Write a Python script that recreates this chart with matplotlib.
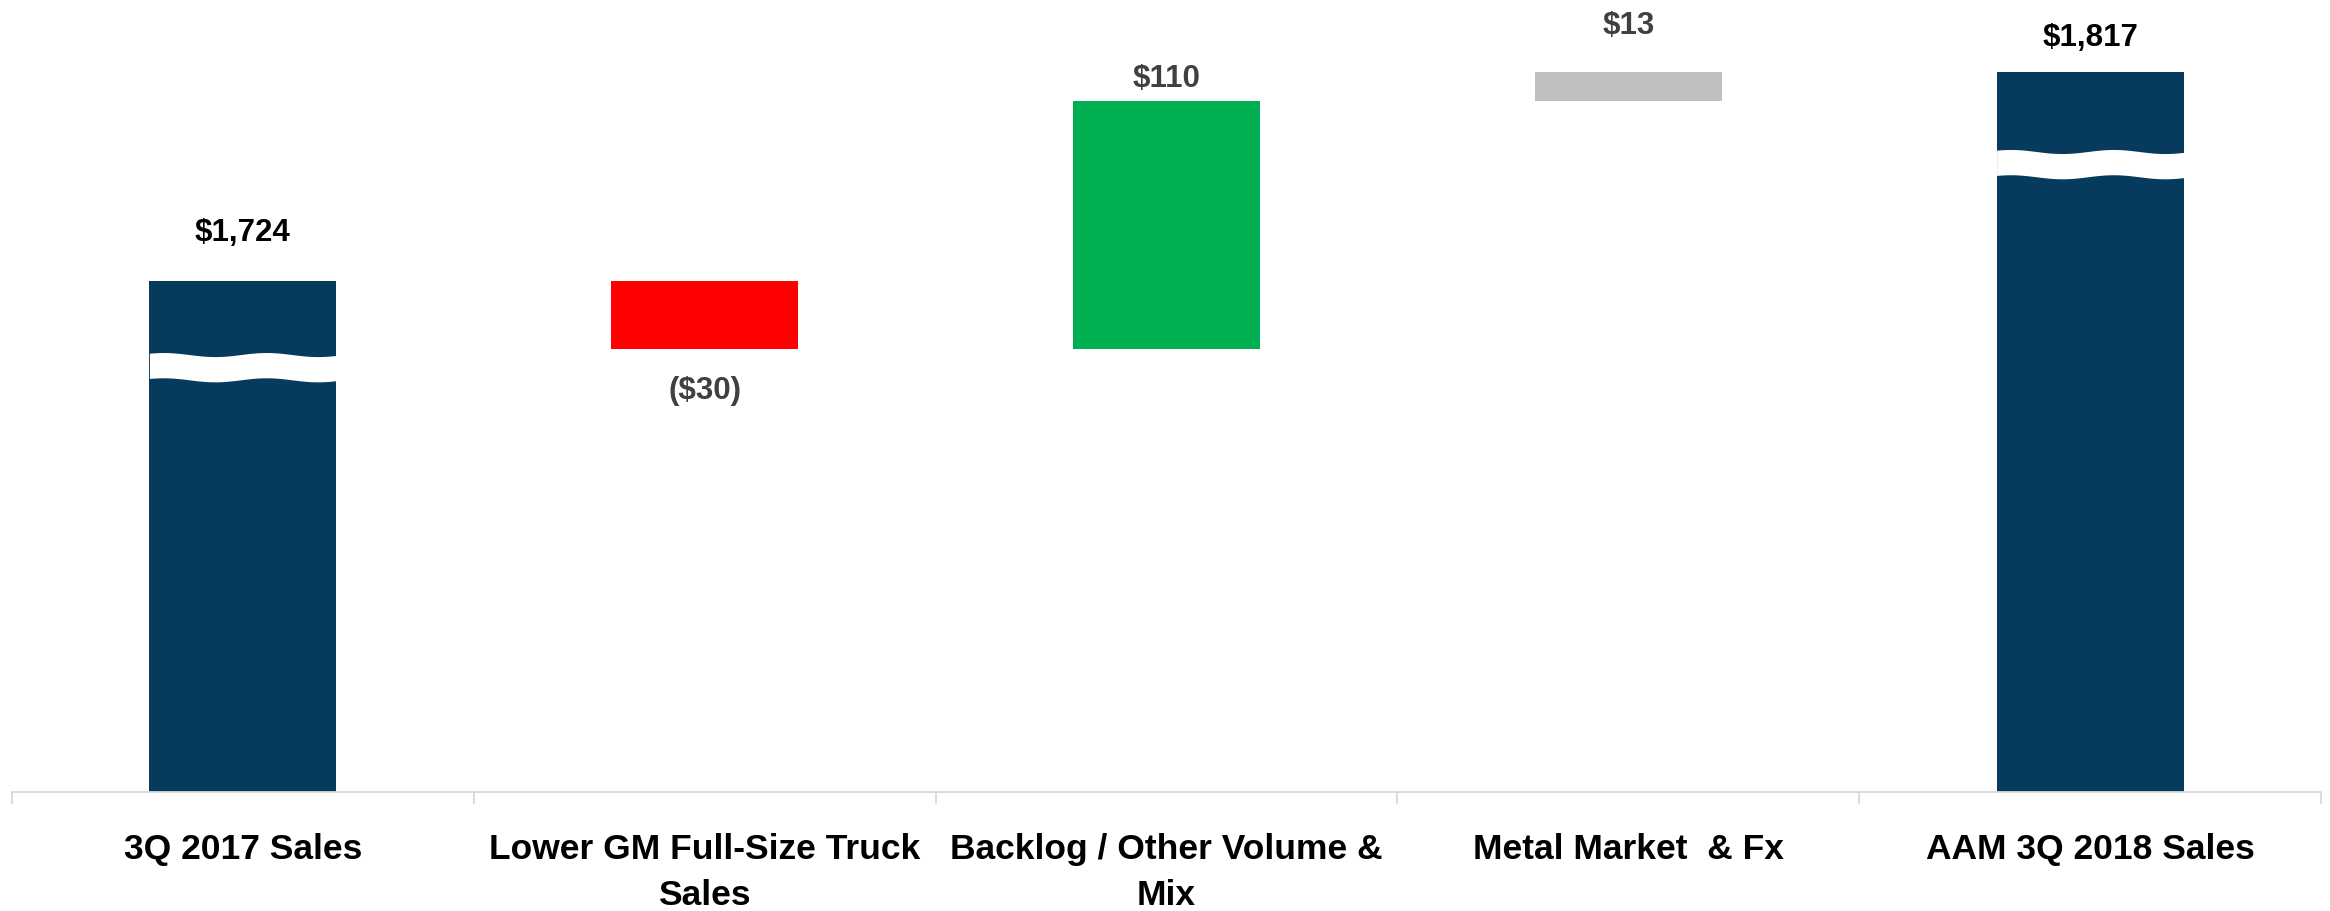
import matplotlib.pyplot as plt
import numpy as np
from matplotlib import font_manager

# Data
categories = [
    "3Q 2017 Sales",
    "Lower GM Full-Size Truck\nSales",
    "Backlog / Other Volume &\nMix",
    "Metal Market  & Fx",
    "AAM 3Q 2018 Sales",
]
values = [1724, -30, 110, 13, 1817]
is_total = [True, False, False, False, True]
value_labels = ["$1,724", "($30)", "$110", "$13", "$1,817"]
break_centers = [1686, None, None, None, 1776]  # where the axis-break wave cuts the total bars

# Style
bar_colors = ["#073b5e", "#ff0000", "#00b050", "#bfbfbf", "#073b5e"]
label_colors = ["#000000", "#404040", "#404040", "#404040", "#000000"]
label_offsets_px = [49, -41, 23, 47, 35]
y_floor = 1497.7
y_top = 1849.2

# the original uses Arial Narrow; fall back to Arial metrics at a smaller size
names = {f.name for f in font_manager.fontManager.ttflist}
narrow = "Liberation Sans Narrow" in names
family = [f for f in ["Liberation Sans Narrow", "Liberation Sans", "DejaVu Sans"] if f in names]
plt.rcParams["font.family"] = family
val_size = 27 if narrow else 22.5
cat_size = 30 if narrow else 25.5
cat_spacing = 1.1 if narrow else 1.5
cat_pad = 26 if narrow else 29

fig = plt.figure(figsize=(23.3, 9.12), dpi=100)
ax = fig.add_axes([12 / 2330, (912 - 793) / 912, 2309 / 2330, 793 / 912])

width = 0.405
running = 0
for i, v in enumerate(values):
    if is_total[i]:
        bottom, top = y_floor, v
        running = v
    else:
        bottom, top = sorted([running, running + v])
        running += v
    ax.bar(i, top - bottom, bottom=bottom, width=width, color=bar_colors[i], zorder=2)

    # label above the bar, or below for a decrease
    anchor = bottom if (not is_total[i] and v < 0) else top
    ax.annotate(value_labels[i], (i, anchor), xytext=(0, label_offsets_px[i]),
                textcoords="offset pixels", ha="center", va="center",
                fontsize=val_size, fontweight="bold", color=label_colors[i])

    # wavy break on total bars
    if break_centers[i] is not None:
        t = np.linspace(0, 1, 200)
        xs = i - width / 2 + t * width
        wave = -0.9 * np.cos(2 * np.pi * (t - 0.35) / 0.55)
        ax.fill_between(xs, break_centers[i] + wave - 5.6, break_centers[i] + wave + 5.6,
                        color="white", lw=0, zorder=3)

ax.set_xlim(-0.5, 4.5)
ax.set_ylim(y_floor, y_top)

for side in ["top", "right", "left"]:
    ax.spines[side].set_visible(False)
ax.spines["bottom"].set_color("#d9d9d9")
ax.spines["bottom"].set_linewidth(1.3)
ax.set_yticks([])

ax.set_xticks(np.arange(-0.5, 5, 1))
ax.set_xticklabels([])
ax.tick_params(axis="x", which="major", length=8.6, width=1.3, color="#d9d9d9")
ax.set_xticks(np.arange(len(categories)), minor=True)
ax.set_xticklabels(categories, minor=True, fontsize=cat_size, fontweight="bold",
                   linespacing=cat_spacing)
ax.tick_params(axis="x", which="minor", length=0, pad=cat_pad)

fig.savefig("out.png", dpi=100)
